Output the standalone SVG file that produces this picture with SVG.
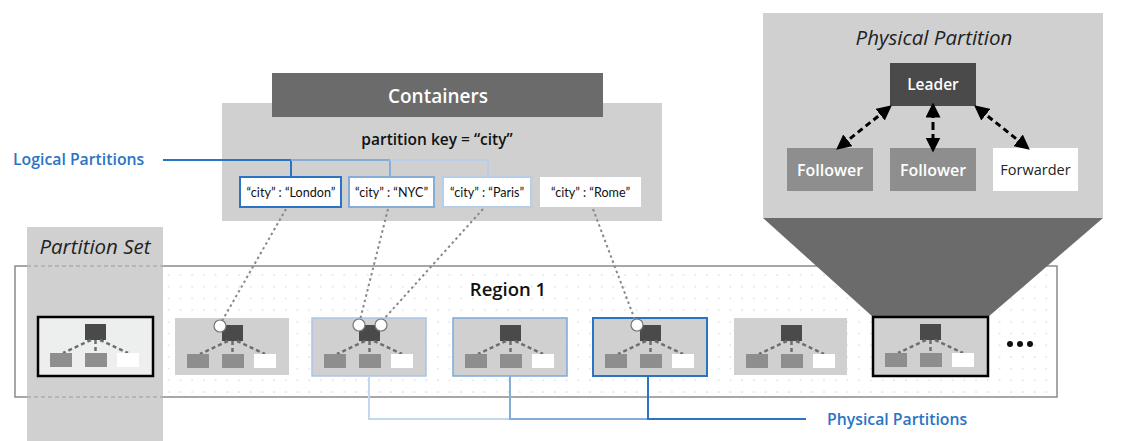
<svg xmlns="http://www.w3.org/2000/svg" width="1121" height="441" viewBox="0 0 1121 441">
<style>
text{font-family:"Open Sans","Noto Sans","Liberation Sans",sans-serif}
.panel{fill:#d0d0d0}
.dark{fill:#6a6b6a}
.blue{fill:#2b74c3;font-size:15.8px;font-weight:600}
.key{font-family:Lato,"Open Sans",sans-serif;font-size:12.6px;fill:#111}
.tree{stroke:#6e6e6e;stroke-width:2.5;stroke-dasharray:4 3;fill:none}
.ldr{fill:#4a4a4a}
.fol{fill:#8e8e8e}
.fwd{fill:#fff}
.dot{stroke:#888;stroke-width:2;stroke-dasharray:2.5 3;fill:none}
.arr{stroke:#000;stroke-width:3;stroke-dasharray:6 4;fill:none}
.circ{fill:#fff;stroke:#777;stroke-width:1.2}
</style>
<defs>
<pattern id="grid" width="11.7" height="11.7" patternUnits="userSpaceOnUse" x="3" y="4">
<circle cx="2" cy="2" r="0.7" fill="#c8c8c8"/>
</pattern>
<marker id="ah" viewBox="0 0 10 10" refX="5" refY="5" markerWidth="5" markerHeight="5" orient="auto-start-reverse" markerUnits="strokeWidth">
<path d="M0,0 L10,5 L0,10 z" fill="#000"/>
</marker>
<g id="mini">
<rect x="47" y="7" width="21" height="16" class="ldr"/>
<path class="tree" d="M53,23 L25,36 M57.5,23 V36 M62,23 L90,36"/>
<rect x="12" y="36" width="22" height="14" class="fol"/>
<rect x="47" y="36" width="22" height="14" class="fol"/>
<rect x="79" y="36" width="22" height="14" class="fwd"/>
</g>
</defs>

<!-- Region 1 -->
<g id="region1">
<rect x="15" y="266" width="1042" height="131" fill="#fff" stroke="#8a8a8a" stroke-width="1.5"/>
<rect x="163" y="268" width="892" height="127" fill="url(#grid)"/>
<text x="508" y="296" text-anchor="middle" font-size="18.5" font-weight="600" fill="#111">Region 1</text>
</g>

<!-- Partition Set column -->
<g id="partition-set">
<rect x="27" y="227" width="136" height="214" class="panel"/>
<path d="M27,266 H163 M27,397 H163" stroke="#9a9a9a" stroke-width="1.2" stroke-dasharray="4 3"/>
<text x="95" y="254" text-anchor="middle" font-size="20.5" font-style="italic" fill="#222">Partition Set</text>
</g>

<!-- Physical Partition detail -->
<g id="physical-partition">
<polygon points="763,218 1103,218 988,317 873,317" class="dark"/>
<rect x="763" y="13" width="340" height="205" class="panel"/>
<text x="934" y="45" text-anchor="middle" font-size="20.5" font-style="italic" fill="#222">Physical Partition</text>
</g>
<g id="leader"><rect x="890" y="63" width="86" height="43" class="ldr"/><text x="933" y="90" text-anchor="middle" font-size="15.5" font-weight="600" fill="#fff">Leader</text></g>
<g id="follower1"><rect x="787" y="148" width="86" height="43" class="fol"/><text x="830" y="175.5" text-anchor="middle" font-size="16" font-weight="600" fill="#fff">Follower</text></g>
<g id="follower2"><rect x="890" y="148" width="86" height="43" class="fol"/><text x="933" y="175.5" text-anchor="middle" font-size="16" font-weight="600" fill="#fff">Follower</text></g>
<g id="forwarder"><rect x="993" y="148" width="85" height="43" class="fwd"/><text x="1035.5" y="175" text-anchor="middle" font-size="14.5" fill="#222">Forwarder</text></g>

<!-- Containers -->
<g id="containers">
<rect x="222" y="103" width="440" height="118" class="panel"/>
<rect x="272" y="73" width="331" height="44" class="dark"/>
<text x="438" y="103" text-anchor="middle" font-size="19" font-weight="600" fill="#fff">Containers</text>
<text x="437" y="145" text-anchor="middle" font-size="15.5" font-weight="600" fill="#111">partition key = “city”</text>
</g>
<g id="london"><rect x="240" y="177" width="101" height="30" fill="#fff" stroke="#2b74c3" stroke-width="2"/><text x="291" y="196.5" text-anchor="middle" class="key">“city” : “London”</text></g>
<g id="nyc"><rect x="349" y="177" width="85" height="30" fill="#fff" stroke="#86acd8" stroke-width="2"/><text x="391.5" y="196.5" text-anchor="middle" class="key">“city” : “NYC”</text></g>
<g id="paris"><rect x="443" y="177" width="88" height="30" fill="#fff" stroke="#b7cde8" stroke-width="2"/><text x="487" y="196.5" text-anchor="middle" class="key">“city” : “Paris”</text></g>
<g id="rome"><rect x="540" y="177" width="101" height="30" fill="#fff"/><text x="590.5" y="196.5" text-anchor="middle" class="key">“city” : “Rome”</text></g>

<g id="logical-label"><text x="13" y="165" class="blue">Logical Partitions</text></g>
<g id="physical-label"><text x="827" y="425" class="blue">Physical Partitions</text></g>

<!-- Partition boxes -->
<g id="pp0"><rect x="38" y="317" width="115" height="59" fill="#edeeee" stroke="#000" stroke-width="2.5"/><use href="#mini" x="38" y="317"/></g>
<g id="pp1"><rect x="175" y="318" width="114" height="57" class="panel"/><use href="#mini" x="175" y="318"/></g>
<g id="pp2"><rect x="312" y="318" width="114" height="58" class="panel" stroke="#a9c5e6" stroke-width="1.5"/><use href="#mini" x="312" y="318"/></g>
<g id="pp3"><rect x="453" y="318" width="114" height="58" class="panel" stroke="#7ea9da" stroke-width="1.5"/><use href="#mini" x="453" y="318"/></g>
<g id="pp4"><rect x="593" y="318" width="114" height="58" class="panel" stroke="#2b74c3" stroke-width="2"/><use href="#mini" x="593" y="318"/></g>
<g id="pp5"><rect x="734" y="318" width="113" height="57" class="panel"/><use href="#mini" x="734" y="318"/></g>
<g id="pp6"><rect x="873" y="317" width="115" height="59" class="panel" stroke="#000" stroke-width="2.5"/><use href="#mini" x="873" y="317"/></g>
<g id="more"><circle cx="1010" cy="344" r="3" fill="#111"/><circle cx="1020" cy="344" r="3" fill="#111"/><circle cx="1030" cy="344" r="3" fill="#111"/></g>

<!-- Connectors -->
<g id="connectors">
<path d="M163,160 H291 V177" stroke="#2b74c3" stroke-width="2" fill="none"/>
<path d="M291,160 H390 V177" stroke="#86acd8" stroke-width="2" fill="none"/>
<path d="M390,160 H488 V177" stroke="#b7cde8" stroke-width="2" fill="none"/>
<path class="dot" d="M286,209 L222,321"/>
<path class="dot" d="M388,209 L360,320"/>
<path class="dot" d="M483,209 L383,320"/>
<path class="dot" d="M593,209 L635,320"/>
<circle class="circ" cx="220" cy="326" r="6"/>
<circle class="circ" cx="359" cy="325" r="6"/>
<circle class="circ" cx="381" cy="325" r="6"/>
<circle class="circ" cx="637" cy="325" r="6"/>
<path d="M369,376 V419 H510" stroke="#c3d8ef" stroke-width="2" fill="none"/>
<path d="M510,376 V419 H648" stroke="#86acd8" stroke-width="2" fill="none"/>
<path d="M648,376 V419 H806" stroke="#2b74c3" stroke-width="2" fill="none"/>
<path class="arr" d="M886,110 L842,145" marker-start="url(#ah)" marker-end="url(#ah)"/>
<path d="M933,110 V145" stroke="#000" stroke-width="3" stroke-dasharray="8 4" fill="none" marker-start="url(#ah)" marker-end="url(#ah)"/>
<path class="arr" d="M980,110 L1024,145" marker-start="url(#ah)" marker-end="url(#ah)"/>
</g>
</svg>
